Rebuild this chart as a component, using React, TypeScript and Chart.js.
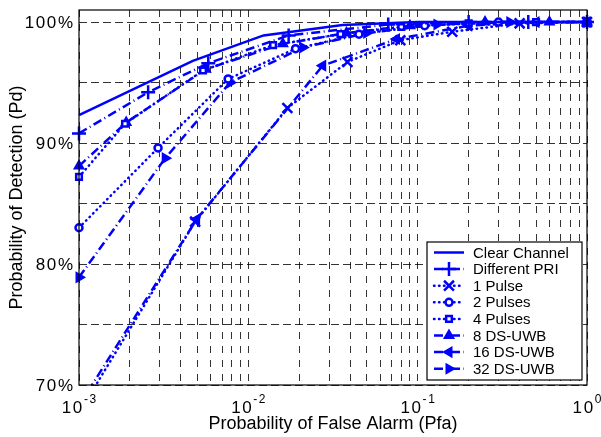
import React, { useEffect, useRef } from 'react';
import { Chart, registerables } from 'chart.js';

Chart.register(...registerables);

// ---------------- data ----------------
const seriesLabels = ['Clear Channel', 'Different PRI', '1 Pulse', '2 Pulses', '4 Pulses', '8 DS-UWB', '16 DS-UWB', '32 DS-UWB'];

const clearPfa = [0.001, 0.0047, 0.0123, 0.036, 0.1, 1];
const clearPd = [92.3, 96.8, 98.9, 99.75, 100, 100];

const priPfa = [0.001, 0.00256, 0.0058, 0.0173, 0.067, 0.2, 0.45, 1];
const priPd = [90.8, 94.2, 96.6, 98.9, 99.8, 100, 100, 100];

const p1Pfa = [0.001, 0.00485, 0.017, 0.0385, 0.079, 0.16, 0.4, 1];
const p1Pd = [67.7, 83.5, 92.9, 96.7, 98.5, 99.2, 99.9, 100];

const p2Pfa = [0.001, 0.00293, 0.0076, 0.019, 0.045, 0.11, 0.3, 1];
const p2Pd = [83.0, 89.6, 95.3, 97.8, 99.0, 99.7, 100, 100];

const p4Pfa = [0.001, 0.00187, 0.0054, 0.014, 0.035, 0.08, 0.2, 0.5, 1];
const p4Pd = [87.2, 91.6, 96.0, 98.1, 99.0, 99.6, 99.9, 100, 100];

const ds8Pfa = [0.001, 0.0019, 0.0056, 0.016, 0.038, 0.09, 0.25, 0.6, 1];
const ds8Pd = [88.1, 91.7, 96.1, 98.2, 99.1, 99.7, 100, 100, 100];

const ds16Pfa = [0.001, 0.00495, 0.0275, 0.075, 0.2, 0.5, 1];
const ds16Pd = [68.3, 83.7, 96.4, 98.6, 99.7, 100, 100];

const ds32Pfa = [0.001, 0.00323, 0.0078, 0.021, 0.05, 0.13, 0.35, 1];
const ds32Pd = [78.9, 88.75, 95.0, 97.9, 99.1, 99.8, 100, 100];

const xMajorTicks = [0.001, 0.01, 0.1, 1];
const xTickExponents = ['-3', '-2', '-1', '0'];
const yTicks = [70, 75, 80, 85, 90, 95, 100];
const yTickLabels = ['70%', '', '80%', '', '90%', '', '100%'];

const xTitle = 'Probability of False Alarm (Pfa)';
const yTitle = 'Probability of Detection (Pd)';

// ---------------- styles ----------------
const BLUE = '#0000ff';
const FONT = 'Arial, "Liberation Sans", Helvetica, sans-serif';
const SOLID: number[] = [];
const DOTTED = [0.5, 4.5];
const DASHDOT = [9, 3.5, 1, 3.5];

type Style = { dash: number[]; cap: CanvasLineCap; point: any; rot: number; r: number; fill: boolean };
const styles: Style[] = [
  { dash: SOLID, cap: 'butt', point: false, rot: 0, r: 0, fill: false },
  { dash: DASHDOT, cap: 'butt', point: 'cross', rot: 0, r: 7, fill: false },
  { dash: DOTTED, cap: 'round', point: 'crossRot', rot: 0, r: 7, fill: false },
  { dash: DOTTED, cap: 'round', point: 'circle', rot: 0, r: 3.5, fill: false },
  { dash: DOTTED, cap: 'round', point: 'rect', rot: 0, r: 4, fill: false },
  { dash: DASHDOT, cap: 'butt', point: 'triangle', rot: 0, r: 4.5, fill: true },
  { dash: DASHDOT, cap: 'butt', point: 'triangle', rot: -90, r: 4.5, fill: true },
  { dash: DASHDOT, cap: 'butt', point: 'triangle', rot: 90, r: 4.5, fill: true },
];

const seriesX = [clearPfa, priPfa, p1Pfa, p2Pfa, p4Pfa, ds8Pfa, ds16Pfa, ds32Pfa];
const seriesY = [clearPd, priPd, p1Pd, p2Pd, p4Pd, ds8Pd, ds16Pd, ds32Pd];

function drawMarker(ctx: CanvasRenderingContext2D, s: Style, x: number, y: number) {
  if (!s.point) return;
  ctx.save();
  ctx.setLineDash([]);
  ctx.strokeStyle = BLUE;
  ctx.fillStyle = s.fill ? BLUE : 'white';
  ctx.lineWidth = 2.5;
  ctx.translate(x, y);
  ctx.rotate((s.rot * Math.PI) / 180);
  const r = s.r;
  ctx.beginPath();
  if (s.point === 'cross') {
    ctx.moveTo(-r, 0); ctx.lineTo(r, 0); ctx.moveTo(0, -r); ctx.lineTo(0, r);
    ctx.stroke();
  } else if (s.point === 'crossRot') {
    const d = r * Math.SQRT1_2;
    ctx.moveTo(-d, -d); ctx.lineTo(d, d); ctx.moveTo(-d, d); ctx.lineTo(d, -d);
    ctx.stroke();
  } else if (s.point === 'circle') {
    ctx.arc(0, 0, r, 0, Math.PI * 2);
    ctx.fill(); ctx.stroke();
  } else if (s.point === 'rect') {
    const d = r * Math.SQRT1_2;
    ctx.rect(-d, -d, 2 * d, 2 * d);
    ctx.fill(); ctx.stroke();
  } else if (s.point === 'triangle') {
    ctx.moveTo(0, -r);
    ctx.lineTo(r * 0.866, r * 0.5);
    ctx.lineTo(-r * 0.866, r * 0.5);
    ctx.closePath();
    ctx.fill(); ctx.stroke();
  }
  ctx.restore();
}

const decorPlugin = {
  id: 'decor',
  afterDraw(chart: any) {
    const ctx: any = chart.ctx;
    const { left, right, top, bottom } = chart.chartArea;
    const xs = chart.scales.x;
    const ys = chart.scales.y;
    ctx.save();
    // axes box
    ctx.setLineDash([]);
    ctx.strokeStyle = '#000';
    ctx.lineWidth = 1.2;
    ctx.strokeRect(left, top, right - left, bottom - top);

    const LS = 1.6;
    // y tick labels
    ctx.fillStyle = '#000';
    ctx.font = `17px ${FONT}`;
    ctx.letterSpacing = `${LS}px`;
    ctx.textAlign = 'left';
    ctx.textBaseline = 'middle';
    yTicks.forEach((v, i) => {
      const lab = yTickLabels[i];
      if (!lab) return;
      const py = ys.getPixelForValue(v);
      const w = ctx.measureText(lab).width - LS;
      ctx.fillText(lab, left - 6 - w, py + 1);
    });

    // x tick labels with superscript exponents
    ctx.textBaseline = 'alphabetic';
    xMajorTicks.forEach((v, i) => {
      const px = xs.getPixelForValue(v);
      ctx.font = `17px ${FONT}`;
      const w1 = ctx.measureText('10').width;
      ctx.font = `12px ${FONT}`;
      const w2 = ctx.measureText(xTickExponents[i]).width - LS;
      const start = px - (w1 + w2) / 2;
      ctx.font = `17px ${FONT}`;
      ctx.fillText('10', start, 413);
      ctx.font = `12px ${FONT}`;
      ctx.fillText(xTickExponents[i], start + w1, 403);
    });
    ctx.letterSpacing = '0px';

    // legend
    const bw = 155, bh = 138;
    const bx = right - 5 - bw;
    const by = bottom - 5 - bh;
    ctx.fillStyle = '#fff';
    ctx.fillRect(bx, by, bw, bh);
    ctx.strokeStyle = '#000';
    ctx.lineWidth = 1.2;
    ctx.strokeRect(bx, by, bw, bh);
    ctx.font = `15px ${FONT}`;
    ctx.textBaseline = 'middle';
    chart.data.datasets.forEach((ds: any, i: number) => {
      const s = styles[i];
      const cy = by + 10.5 + i * 16.6;
      ctx.save();
      ctx.strokeStyle = BLUE;
      ctx.lineWidth = 2.5;
      ctx.lineCap = s.cap;
      ctx.setLineDash(s.dash);
      ctx.beginPath();
      ctx.moveTo(bx + 7, cy);
      ctx.lineTo(bx + 37, cy);
      ctx.stroke();
      ctx.restore();
      drawMarker(ctx, s, bx + 22, cy);
      ctx.fillStyle = '#000';
      ctx.fillText(ds.label, bx + 46, cy + 1);
    });
    ctx.restore();
  },
};

export default function App() {
  const ref = useRef<HTMLCanvasElement | null>(null);
  useEffect(() => {
    if (!ref.current) return;
    Chart.defaults.font.family = FONT;
    Chart.defaults.color = '#000';
    const datasets = seriesLabels.map((label, i) => {
      const s = styles[i];
      return {
        label,
        data: seriesX[i].map((x, j) => ({ x, y: seriesY[i][j] })),
        borderColor: BLUE,
        backgroundColor: BLUE,
        borderWidth: 2.5,
        borderDash: s.dash,
        borderCapStyle: s.cap,
        tension: 0,
        fill: false,
        pointStyle: s.point,
        pointRotation: s.rot,
        pointRadius: s.r,
        pointBorderWidth: 2.5,
        pointBorderColor: BLUE,
        pointBackgroundColor: s.fill ? BLUE : 'rgba(255,255,255,1)',
        clip: { left: 10, top: 12, right: 14, bottom: 0 },
      };
    });
    const chart = new Chart(ref.current, {
      type: 'line',
      data: { datasets },
      options: {
        animation: false,
        responsive: false,
        maintainAspectRatio: false,
        layout: { padding: { top: 10, right: 14, left: 0, bottom: 0 } },
        plugins: { legend: { display: false }, tooltip: { enabled: false } },
        scales: {
          x: {
            type: 'logarithmic',
            min: 0.001,
            max: 1,
            afterBuildTicks: (s: any) => {
              const t: any[] = [];
              for (let e = -3; e < 0; e++) {
                for (let m = 1; m <= 9; m++) t.push({ value: m * Math.pow(10, e) });
              }
              t.push({ value: 1 });
              s.ticks = t;
            },
            afterFit: (s: any) => { s.height = 52; },
            ticks: { display: false },
            grid: { color: 'rgba(0,0,0,0.8)', lineWidth: 1, drawTicks: false, tickLength: 0 },
            border: { display: false, dash: [7, 7] },
            title: { display: true, text: xTitle, font: { size: 18 }, padding: { top: 0, bottom: 2 } },
          },
          y: {
            type: 'linear',
            min: 70,
            max: 101,
            afterBuildTicks: (s: any) => { s.ticks = yTicks.map((v) => ({ value: v })); },
            afterFit: (s: any) => { s.width = 79; },
            ticks: { display: false },
            grid: { color: 'rgba(0,0,0,0.8)', lineWidth: 1, drawTicks: false, tickLength: 0 },
            border: { display: false, dash: [8, 4] },
            title: { display: true, text: yTitle, font: { size: 18 }, padding: { top: 6, bottom: 0 } },
          },
        },
      } as any,
      plugins: [decorPlugin],
    });
    return () => chart.destroy();
  }, []);
  return (
    <div style={{ position: 'fixed', left: 0, top: 0, width: 601, height: 437, background: '#fff' }}>
      <canvas ref={ref} width={601} height={437} style={{ display: 'block' }} />
    </div>
  );
}
